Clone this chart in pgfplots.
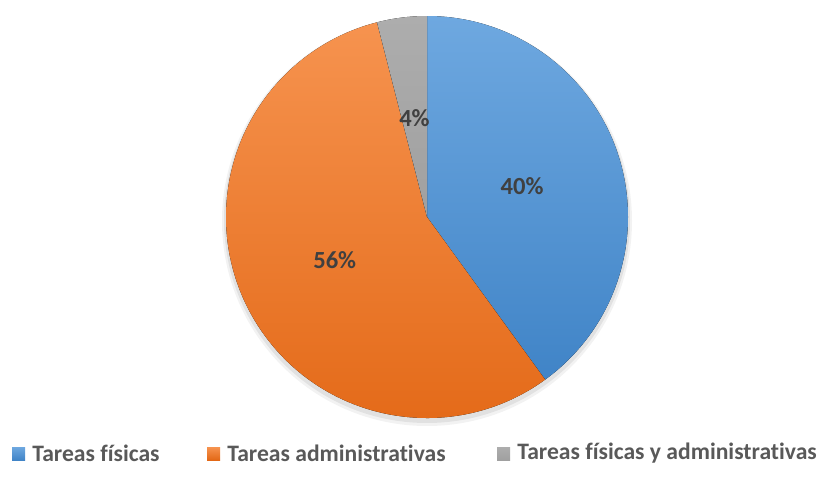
\documentclass[border=0pt]{standalone}
\usepackage{fontspec}
\setmainfont{Carlito}[RawFeature={-liga}]
\usepackage{pgfplots}
\pgfplotsset{compat=1.18}
\usetikzlibrary{calc}

\definecolor{blueTop}{HTML}{6EA8E0}
\definecolor{blueBot}{HTML}{4084C7}
\definecolor{orgTop}{HTML}{F6934F}
\definecolor{orgBot}{HTML}{E36816}
\definecolor{gryTop}{HTML}{ADADAD}
\definecolor{gryBot}{HTML}{A0A0A0}
\definecolor{lbl}{HTML}{404040}
\definecolor{leg}{HTML}{595959}

% slice values (percent)
\def\valA{40}  % Tareas fisicas
\def\valB{56}  % Tareas administrativas
\def\valC{4}   % Tareas fisicas y administrativas

\begin{document}
\begin{tikzpicture}
\begin{axis}[
  hide axis,
  scale only axis,
  width=413pt, height=244.5pt,
  xmin=0, xmax=826, ymin=0, ymax=489,
  clip=false,
]
  \path (axis cs:0,0) rectangle (axis cs:826,489);

  %% soft shadow
  \fill[black, opacity=0.05] (axis cs:427,268) circle[radius=102.5pt];
  \fill[black, opacity=0.07] (axis cs:427,269) circle[radius=101.5pt];

  %% angles
  \pgfmathsetmacro\aS{90}
  \pgfmathsetmacro\aB{90-\valA*3.6}
  \pgfmathsetmacro\aC{\aB-\valB*3.6}
  \pgfmathsetmacro\aE{\aC-\valC*3.6}

  \fill[top color=blueTop, bottom color=blueBot]
    (axis cs:427,272) -- ++(\aS:100.5pt) arc[start angle=\aS, end angle=\aB, radius=100.5pt] -- cycle;
  \fill[top color=orgTop, bottom color=orgBot]
    (axis cs:427,272) -- ++(\aB:100.5pt) arc[start angle=\aB, end angle=\aC, radius=100.5pt] -- cycle;
  \fill[top color=gryTop, bottom color=gryBot]
    (axis cs:427,272) -- ++(\aC:100.5pt) arc[start angle=\aC, end angle=\aE, radius=100.5pt] -- cycle;

  %% labels
  \pgfmathsetmacro\mA{(\aS+\aB)/2}
  \pgfmathsetmacro\mB{(\aB+\aC)/2}
  \pgfmathsetmacro\mC{(\aC+\aE)/2}
  \node[font=\fontsize{12.3}{14}\selectfont\bfseries, text=lbl]
    at ($(axis cs:427,272)+(\mA:50pt)$) {\valA\%};
  \node[font=\fontsize{12.3}{14}\selectfont\bfseries, text=lbl]
    at ($(axis cs:427,272)+(\mB:51pt)$) {\valB\%};
  \node[font=\fontsize{12.3}{14}\selectfont\bfseries, text=lbl]
    at ($(axis cs:427,272)+(\mC:50pt)$) {\valC\%};

  %% legend
  \fill[top color=blueTop, bottom color=blueBot] (axis cs:12,29) rectangle (axis cs:25,42);
  \node[anchor=west, inner sep=0pt, font=\fontsize{11.8}{13}\selectfont\bfseries, text=leg]
    at (axis cs:32,36) {Tareas físicas};
  \fill[top color=orgTop, bottom color=orgBot] (axis cs:207,29) rectangle (axis cs:220,42);
  \node[anchor=west, inner sep=0pt, font=\fontsize{11.8}{13}\selectfont\bfseries, text=leg]
    at (axis cs:227,36) {Tareas administrativas};
  \fill[top color=gryTop, bottom color=gryBot] (axis cs:497,29) rectangle (axis cs:510,42);
  \node[anchor=west, inner sep=0pt, font=\fontsize{11.8}{13}\selectfont\bfseries, text=leg]
    at (axis cs:517,36) {Tareas físicas y administrativas};
\end{axis}
\end{tikzpicture}
\end{document}
